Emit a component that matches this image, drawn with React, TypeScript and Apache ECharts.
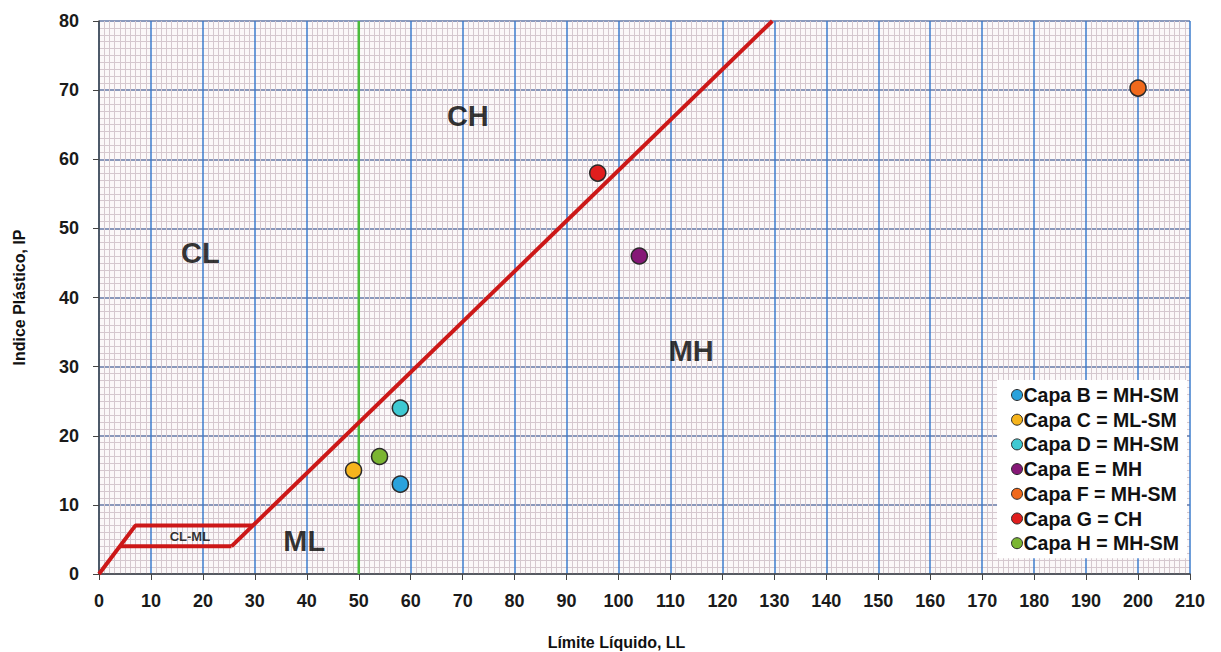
import React, { useEffect, useRef } from "react";
import * as echarts from "echarts";

const xTicksMax = 210;
const yTicksMax = 80;
const capaNames = [
  "Capa B = MH-SM",
  "Capa C = ML-SM",
  "Capa D = MH-SM",
  "Capa E = MH",
  "Capa F = MH-SM",
  "Capa G = CH",
  "Capa H = MH-SM",
];
const capaLL = [58, 49, 58, 104, 200, 96, 54];
const capaIP = [13, 15, 24, 46, 70.3, 58, 17];
const capaColors = ["#2aa2dc", "#f6b41c", "#3fc9d2", "#861877", "#f0691c", "#e01e1e", "#7bb632"];

const aLine = [[25.5, 4], [129.6, 80]];
const clmlTop = [[0, 0], [7, 7], [29.6, 7]];
const clmlBottom = [[4, 4], [25.5, 4]];
const greenLine = [[50, 0], [50, 80]];

const zoneNames = ["CH", "CL", "MH", "ML", "CL-ML"];
const zonePos = [[71, 66.2], [19.5, 46.5], [114, 32.3], [39.5, 4.8], [17.5, 5.4]];
const zoneSizes = [29, 29, 29, 29, 13];

export default function App() {
  const ref = useRef<HTMLDivElement>(null);
  useEffect(() => {
    const chart = echarts.init(ref.current!, null, { renderer: "svg" });
    const font = "Liberation Sans";
    const series: any[] = [];
    const redStyle = { color: "#cc1818", width: 4 };
    [aLine, clmlTop, clmlBottom].forEach((d) =>
      series.push({
        type: "line",
        data: d,
        symbol: "none",
        lineStyle: redStyle,
        z: 3,
        silent: true,
      })
    );
    series.push({
      type: "line",
      data: greenLine,
      symbol: "none",
      lineStyle: { color: "#4cbc3e", width: 2.5 },
      z: 2,
      silent: true,
    });
    series.push({
      type: "scatter",
      data: zoneNames.map((n, i) => ({
        value: zonePos[i],
        label: {
          show: true,
          formatter: n,
          position: "inside",
          fontSize: zoneSizes[i],
          fontWeight: "bold",
          fontFamily: font,
          color: "#000000",
        },
      })),
      symbolSize: 0,
      silent: true,
      z: 4,
    });
    capaNames.forEach((n, i) =>
      series.push({
        name: n,
        type: "scatter",
        data: [[capaLL[i], capaIP[i]]],
        symbol: "circle",
        symbolSize: 16,
        itemStyle: { color: capaColors[i], borderColor: "#2a2a2a", borderWidth: 1.5, opacity: 1 },
        z: 5,
      })
    );
    chart.setOption({
      animation: false,
      backgroundColor: "#ffffff",
      grid: {
        left: 99,
        right: 31,
        top: 21,
        bottom: 78,
        show: true,
        backgroundColor: "#fbf8f9",
        borderWidth: 0,
        outerBoundsMode: "none",
        containLabel: false,
      },
      legend: {
        data: capaNames,
        orient: "vertical",
        right: 34,
        top: 380,
        backgroundColor: "#ffffff",
        padding: [5, 8, 5, 14],
        itemGap: 4.7,
        itemWidth: 11,
        itemHeight: 11,
        icon: "circle",
        textStyle: {
          fontFamily: font,
          fontWeight: "bold",
          fontSize: 19.5,
          lineHeight: 20,
          color: "#111111",
          padding: [0, 0, 0, -4],
        },
        itemStyle: { borderColor: "#2a2a2a", borderWidth: 1 },
      },
      xAxis: {
        type: "value",
        min: 0,
        max: xTicksMax,
        interval: 10,
        name: "Límite Líquido, LL",
        nameLocation: "middle",
        nameGap: 60,
        nameTextStyle: { fontFamily: font, fontWeight: "bold", fontSize: 16, color: "#111111", padding: [0, 56, 0, 0] },
        axisLine: { show: true, lineStyle: { color: "#444", width: 1.5 } },
        axisTick: { show: true, length: 6, lineStyle: { color: "#444" } },
        axisLabel: { fontFamily: font, fontWeight: "bold", fontSize: 18, color: "#1a1a1a", margin: 18 },
        splitLine: { show: true, lineStyle: { color: "#3d7ccc", width: 1.5 } },
        minorTick: { show: false, splitNumber: 10 },
        minorSplitLine: { show: true, lineStyle: { color: "#d5c8cf", width: 1 } },
      },
      yAxis: {
        type: "value",
        min: 0,
        max: yTicksMax,
        interval: 10,
        name: "Indice Plástico, IP",
        nameLocation: "middle",
        nameGap: 72,
        nameTextStyle: { fontFamily: font, fontWeight: "bold", fontSize: 16, color: "#111111" },
        axisLine: { show: true, lineStyle: { color: "#444", width: 1.5 } },
        axisTick: { show: true, length: 6, lineStyle: { color: "#444" } },
        axisLabel: { fontFamily: font, fontWeight: "bold", fontSize: 18, color: "#1a1a1a", margin: 20 },
        splitLine: { show: true, lineStyle: { color: "#6478a6", width: 1.5 } },
        minorTick: { show: false, splitNumber: 10 },
        minorSplitLine: { show: true, lineStyle: { color: "#d5c8cf", width: 1 } },
      },
      series,
    });
    return () => chart.dispose();
  }, []);
  return (
    <div
      ref={ref}
      style={{ position: "fixed", left: 0, top: 0, width: 1221, height: 652 }}
    />
  );
}
